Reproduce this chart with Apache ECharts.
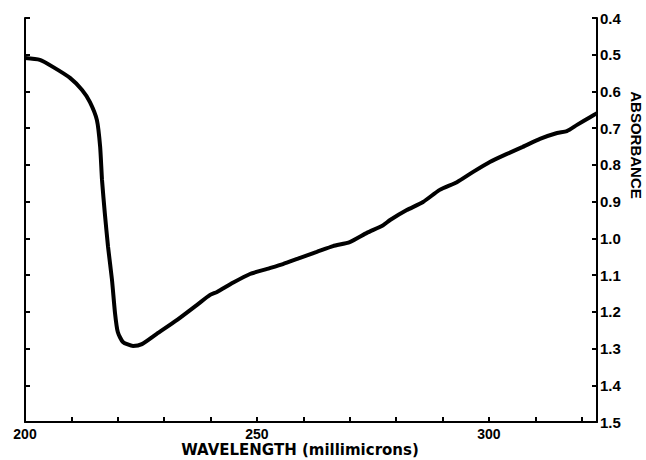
<!DOCTYPE html>
<html>
<head>
<meta charset="utf-8">
<script src="https://cdn.jsdelivr.net/npm/echarts@6/dist/echarts.min.js"></script>
<style>html,body{margin:0;padding:0;background:#fff}#c{width:646px;height:460px}</style>
</head>
<body>
<div id="c"></div>
<script>
const wavelength = [200, 203.2, 206.0, 209.7, 212.3, 214.0, 215.5, 216.2, 216.6, 217.2, 217.9, 218.75, 219.4, 220.0, 221.1, 223.3, 225.2, 228.4, 232.8, 237.1, 239.9, 241.4, 244.8, 248.5, 252.2, 255.6, 259.3, 262.9, 266.4, 270.0, 273.7, 277.2, 278.7, 282.3, 285.8, 289.4, 293.1, 296.6, 300.2, 303.9, 307.3, 311.0, 314.7, 316.8, 319.0, 321.8, 323.3];
const absorbance = [0.509, 0.514, 0.533, 0.563, 0.596, 0.629, 0.678, 0.751, 0.841, 0.931, 1.023, 1.113, 1.203, 1.255, 1.282, 1.293, 1.288, 1.260, 1.222, 1.181, 1.154, 1.146, 1.121, 1.097, 1.083, 1.070, 1.053, 1.037, 1.021, 1.010, 0.985, 0.964, 0.950, 0.923, 0.901, 0.868, 0.847, 0.819, 0.792, 0.770, 0.751, 0.729, 0.713, 0.708, 0.691, 0.670, 0.659];
const xTickLabels = [200, 250, 300];
const xTitle = 'WAVELENGTH (millimicrons)';
const yTitle = 'ABSORBANCE';

const chart = echarts.init(document.getElementById('c'), null, {renderer: 'svg'});
const lineStyle = {color: '#000', width: 2};
const yBase = {
  type: 'value', min: 0.4, max: 1.5, interval: 0.1, inverse: true,
  splitLine: {show: false},
  axisLine: {show: true, lineStyle: lineStyle},
  axisTick: {show: true, inside: true, length: 5, lineStyle: lineStyle}
};
chart.setOption({
  animation: false,
  grid: {left: 25, right: 49, top: 18, bottom: 38},
  xAxis: {
    type: 'value', min: 200, max: 323.3, interval: 10,
    splitLine: {show: false},
    axisLine: {show: true, lineStyle: lineStyle},
    axisTick: {show: true, inside: true, length: 5, lineStyle: lineStyle},
    axisLabel: {
      margin: 5, color: '#000', fontFamily: 'Liberation Sans', fontWeight: 'bold', fontSize: 14,
      formatter: v => xTickLabels.some(t => Math.abs(t - v) < 1e-6) ? String(Math.round(v)) : ''
    }
  },
  yAxis: [
    Object.assign({}, yBase, {
      position: 'right',
      axisLabel: {margin: 3, color: '#000', fontFamily: 'Liberation Sans', fontWeight: 'bold', fontSize: 15,
        formatter: v => v.toFixed(1)}
    }),
    Object.assign({}, yBase, {
      position: 'left',
      axisLabel: {show: false}
    })
  ],
  graphic: [
    {type: 'text', x: 300, y: 450, style: {text: xTitle, fill: '#000', font: 'bold 15px "DejaVu Sans"', align: 'center', verticalAlign: 'middle'}},
    {type: 'text', x: 636, y: 145, rotation: -Math.PI / 2, style: {text: yTitle, fill: '#000', font: 'bold 15px "Liberation Sans"', align: 'center', verticalAlign: 'middle'}}
  ],
  series: [{
    type: 'line', yAxisIndex: 0, showSymbol: false, smooth: 0.2,
    data: wavelength.map((w, i) => [w, absorbance[i]]),
    lineStyle: {color: '#000', width: 4}
  }]
});
</script>
</body>
</html>
